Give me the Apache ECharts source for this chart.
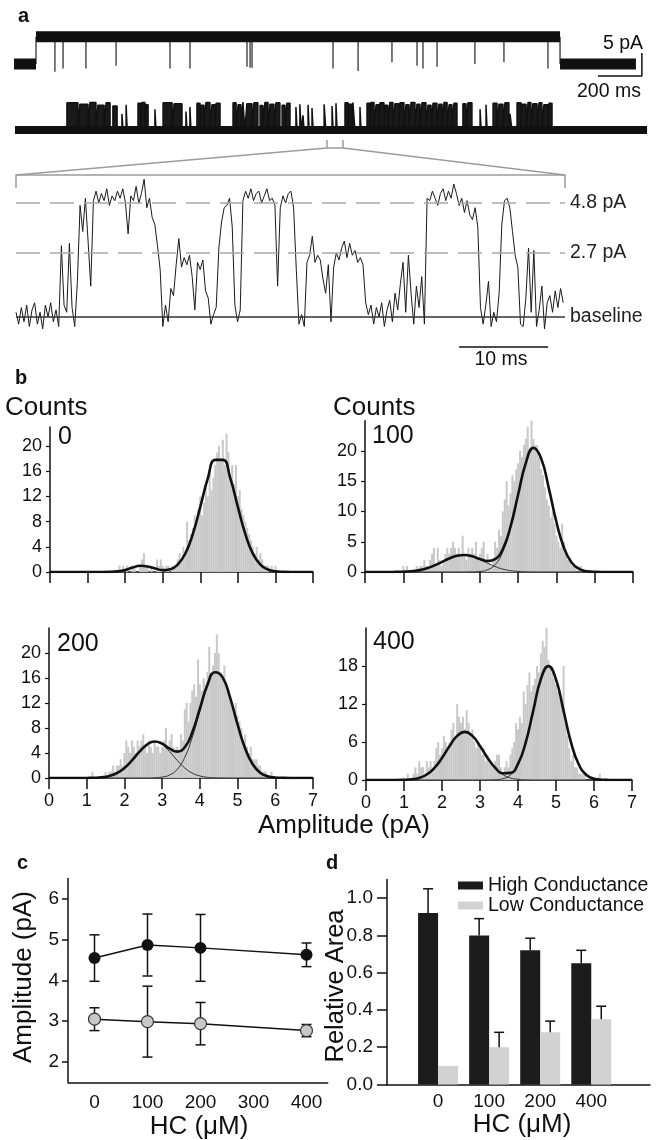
<!DOCTYPE html>
<html>
<head>
<meta charset="utf-8">
<script src="https://cdn.jsdelivr.net/npm/echarts@6/dist/echarts.min.js"></script>
<style>
html, body { margin: 0; padding: 0; background: #fff; }
#chart { width: 661px; height: 1140px; }
</style>
</head>
<body>
<div id="chart"></div>
<script>
var FONT = 'Liberation Sans, Arial, sans-serif';

// ---- panel a: single channel traces ----
// top trace: one long opening with brief closures (ms / pA)
var trace1SwitchMs = [100, 2482];
var trace1EndMs = 2827;
var trace1OpenPA = 5.9;
var trace1SpikeMs = [186, 223, 327, 464, 709, 800, 1059, 1073, 1082, 1450, 1564, 1718, 1832, 1859, 1923, 2095, 2227, 2427];
var trace1SpikeMinPA = [-1.7, -1.0, -1.0, -0.4, -1.0, -1.0, -0.6, -0.8, -0.8, -1.0, -1.5, 0.4, -0.4, -1.0, -0.6, 0.0, 0.4, -1.0];

// second trace: bursts of openings [start ms, end ms, level pA]
var trace2Openings = [
  [236, 286, 5.9], [295, 332, 5.6], [341, 368, 6.0], [377, 405, 5.4], [414, 432, 5.9], [445, 464, 5.2],
  [486, 491, 3.5], [505, 510, 5.5],
  [559, 573, 5.8], [577, 591, 6.0], [595, 605, 5.5],
  [636, 641, 4.5],
  [673, 714, 5.9], [723, 759, 5.7],
  [777, 782, 4.0], [795, 800, 5.0],
  [827, 841, 5.8], [845, 859, 5.4], [868, 886, 6.0], [895, 909, 5.5], [914, 932, 5.8],
  [991, 1005, 5.9], [1014, 1027, 5.5], [1036, 1045, 6.1], [1054, 1077, 5.7], [1086, 1104, 5.9], [1114, 1127, 5.3],
  [1136, 1150, 6.0], [1159, 1177, 5.6], [1186, 1204, 5.9], [1214, 1227, 5.4], [1236, 1250, 5.8],
  [1277, 1282, 5.0], [1295, 1300, 5.6], [1309, 1314, 3.2], [1332, 1337, 5.5], [1350, 1355, 4.8], [1405, 1413, 5.6],
  [1441, 1446, 5.2], [1459, 1464, 5.8],
  [1500, 1514, 5.9], [1518, 1532, 5.6], [1536, 1545, 6.0],
  [1568, 1573, 5.0],
  [1600, 1614, 5.8], [1618, 1632, 6.0], [1641, 1655, 5.5], [1659, 1677, 5.9], [1682, 1695, 5.4], [1704, 1718, 6.0],
  [1727, 1745, 5.7], [1750, 1768, 5.9], [1777, 1791, 5.5], [1800, 1818, 6.0], [1827, 1841, 5.6], [1850, 1868, 5.9],
  [1877, 1891, 5.4], [1900, 1918, 5.8], [1927, 1941, 5.6], [1950, 1964, 6.0], [1973, 1986, 5.5], [1995, 2009, 5.8],
  [2036, 2050, 5.7], [2059, 2077, 5.9],
  [2114, 2119, 4.5], [2141, 2146, 5.5],
  [2173, 2191, 5.8], [2200, 2218, 5.6], [2227, 2245, 5.9], [2250, 2259, 3.5],
  [2282, 2300, 5.9], [2304, 2323, 5.6], [2332, 2345, 6.0], [2354, 2373, 5.7], [2382, 2395, 5.9], [2404, 2423, 5.5], [2427, 2441, 5.8]
];
var trace2EndMs = 2873;

// expanded trace, sampled every 0.3 ms (pA)
var zoomStepMs = 0.3;
var zoomTracePA = [
  0.2, -0.3, 0.4, -0.2, 0.5, -0.4, 0.3, 0.6, -0.3, 0.2,
  -0.5, 0.5, 0.0, 0.6, -0.2, 0.3, -0.4, 3.0, 0.5, 0.2,
  3.1, 0.4, -0.4, 1.5, 4.7, 3.6, 5.0, 3.2, 1.3, 4.9,
  5.3, 4.8, 5.2, 4.9, 5.4, 4.7, 5.1, 4.9, 5.3, 5.0,
  5.4, 4.8, 3.5, 5.1, 4.9, 5.5, 4.8, 5.2, 5.8, 4.6,
  5.0, 4.2, 3.9, 3.0, 2.0, -0.4, 0.5, -0.2, 1.2, 0.9,
  2.2, 3.3, 2.1, 2.5, 2.2, 2.6, 1.7, 0.3, 2.3, 2.0,
  2.4, 1.1, 0.8, -0.3, 0.1, 0.4, 2.9, 4.0, 4.6, 4.7,
  5.0, 3.8, 0.5, -0.2, 0.3, 4.9, 5.3, 5.0, 5.4, 4.9,
  5.2, 5.3, 4.8, 5.1, 5.4, 4.9, 5.0, 4.7, 1.3, 4.6,
  5.1, 4.8, 5.2, 5.3, 4.6, 2.0, -0.3, 0.1, -0.4, 2.3,
  2.6, 3.4, 2.3, 2.6, 2.4, 1.6, 1.0, 2.2, -0.2, 2.1,
  2.7, 2.4, 2.9, 3.2, 2.5, 3.1, 2.6, 2.8, 2.3, 2.5,
  2.2, 0.6, 0.1, 0.5, -0.3, 0.4, 0.0, 0.6, -0.4, 0.3,
  0.7, -0.2, 1.0, 0.3, 1.4, 2.3, 0.2, 2.6, 1.0, -0.3,
  1.3, 0.4, 1.7, -0.3, 5.0, 4.9, 5.3, 5.0, 4.7, 5.2,
  5.4, 4.9, 5.3, 5.0, 5.6, 5.2, 4.7, 5.0, 4.4, 4.9,
  4.3, 4.1, 4.6, 3.8, 0.4, -0.3, 0.5, 1.5, -0.4, 0.2,
  -0.2, 1.0, 3.9, 4.9, 5.0, 4.6, 3.6, 2.6, 2.1, -0.3,
  -0.4, 0.8, 2.9, 0.2, 2.8, -0.4, 0.3, 1.3, -0.5, 0.6,
  0.9, 0.2, 1.1, 0.4, 1.2, 0.6
];
var zoomLevels = [4.8, 2.7];

// scale bars
var scale1 = { t: 2654, y: -2.6, ms: 200, pA: 5 };
var scale2 = { t: 49.8, y: -1.26, ms: 10 };

// ---- panel b: amplitude histograms, bins of 0.05 pA from 1.00 pA ----
var histStart = 1.0, histStep = 0.05;
var hist0 = [
  0, 0, 0, 0, 0, 0, 0, 0, 0, 0,
  0, 0, 0, 0, 0, 0, 0, 1, 0, 1,
  0, 1, 0, 0, 1, 1, 0, 0, 1, 2,
  3, 1, 1, 0, 1, 0, 0, 2, 1, 2,
  1, 0, 1, 1, 0, 1, 1, 1, 2, 3,
  2, 4, 3, 8, 5, 6, 7, 9, 8, 10,
  12, 9, 11, 14, 12, 16, 13, 15, 17, 19,
  20, 18, 21, 17, 22, 19, 15, 17, 14, 17,
  12, 13, 10, 9, 8, 7, 6, 5, 4, 3,
  4, 2, 3, 2, 1, 1, 1, 0, 1, 0,
  1, 0, 0, 0, 0, 0, 0, 0, 0, 0
];
var hist100 = [
  1, 0, 1, 0, 0, 0, 0, 1, 0, 1,
  1, 2, 1, 1, 2, 3, 4, 1, 4, 2,
  1, 2, 3, 4, 3, 4, 5, 4, 3, 4,
  3, 6, 3, 2, 4, 3, 4, 3, 5, 2,
  3, 4, 5, 2, 3, 2, 1, 2, 5, 4,
  7, 6, 10, 12, 15, 11, 13, 16, 15, 17,
  18, 20, 19, 21, 22, 24, 20, 25, 22, 21,
  21, 19, 17, 16, 14, 12, 11, 9, 10, 8,
  6, 5, 4, 8, 5, 3, 2, 2, 1, 1,
  1, 0, 1, 1, 0, 0, 0, 0, 0, 0,
  0, 0, 0, 0, 0, 0, 0, 0, 0, 0
];
var hist200 = [
  0, 0, 0, 1, 0, 0, 0, 0, 0, 0,
  1, 0, 1, 1, 2, 1, 2, 2, 3, 2,
  4, 6, 5, 4, 6, 5, 4, 6, 5, 6,
  7, 5, 4, 6, 5, 4, 6, 5, 5, 4,
  5, 6, 8, 5, 6, 7, 5, 4, 5, 4,
  7, 6, 11, 12, 9, 12, 14, 15, 13, 19,
  15, 14, 16, 15, 17, 21, 16, 18, 20, 23,
  20, 17, 16, 18, 15, 14, 13, 12, 11, 12,
  10, 9, 8, 6, 7, 5, 4, 5, 3, 3,
  3, 2, 2, 1, 1, 1, 0, 0, 1, 0,
  0, 0, 0, 0, 0, 0, 0, 0, 0, 0
];
var hist400 = [
  0, 0, 1, 0, 0, 1, 2, 1, 3, 2,
  2, 1, 3, 2, 3, 2, 3, 5, 6, 4,
  5, 7, 6, 5, 6, 8, 9, 7, 12, 10,
  9, 10, 8, 11, 9, 7, 8, 6, 5, 6,
  5, 4, 5, 3, 4, 3, 3, 2, 3, 4,
  4, 2, 1, 2, 3, 2, 4, 5, 6, 9,
  8, 10, 9, 14, 12, 15, 17, 14, 15, 16,
  18, 17, 20, 22, 21, 24, 19, 18, 17, 16,
  15, 14, 13, 12, 18, 9, 7, 5, 3, 4,
  2, 2, 1, 1, 1, 1, 0, 0, 0, 0,
  0, 0, 0, 1, 0, 0, 0, 0, 0, 0
];

// Gaussian fits, every 0.2 pA from 0 to 7 pA
var fitStart = 0, fitStep = 0.2;
var fit0Sum = [0, 0, 0, 0, 0, 0, 0, 0, 0.02, 0.1, 0.32, 0.71, 0.99, 0.88, 0.54, 0.30, 0.44, 1.19, 2.91, 6.0,
  10.33, 14.85, 17.8, 17.8, 14.85, 10.33, 6.0, 2.91, 1.18, 0.40, 0.11, 0.03, 0, 0, 0, 0];
var fit100Low = [0, 0, 0, 0, 0.02, 0.05, 0.13, 0.29, 0.59, 1.05, 1.64, 2.23, 2.67, 2.8, 2.57, 2.06, 1.45, 0.90, 0.48, 0.23,
  0.10, 0.03, 0.01, 0, 0, 0, 0, 0, 0, 0, 0, 0, 0, 0, 0, 0];
var fit100High = [0, 0, 0, 0, 0, 0, 0, 0, 0, 0, 0, 0, 0, 0, 0.02, 0.09, 0.37, 1.23, 3.33, 7.25,
  12.72, 17.98, 20.5, 18.78, 13.87, 8.26, 3.96, 1.53, 0.48, 0.12, 0.02, 0, 0, 0, 0, 0];
var fit100Sum = [0, 0, 0, 0, 0.02, 0.05, 0.13, 0.29, 0.59, 1.05, 1.64, 2.23, 2.67, 2.8, 2.59, 2.15, 1.82, 2.13, 3.81, 7.48,
  12.82, 18.01, 20.51, 18.78, 13.87, 8.26, 3.96, 1.53, 0.48, 0.12, 0.02, 0, 0, 0, 0, 0];
var fit200Low = [0, 0, 0, 0, 0, 0.01, 0.03, 0.11, 0.33, 0.78, 1.61, 2.82, 4.21, 5.35, 5.8, 5.35, 4.21, 2.82, 1.61, 0.78,
  0.33, 0.11, 0.03, 0.01, 0, 0, 0, 0, 0, 0, 0, 0, 0, 0, 0, 0];
var fit200High = [0, 0, 0, 0, 0, 0, 0, 0, 0, 0, 0, 0, 0, 0, 0.04, 0.15, 0.49, 1.40, 3.31, 6.53,
  10.75, 14.76, 16.9, 16.15, 12.89, 8.57, 4.76, 2.2, 0.85, 0.27, 0.07, 0.02, 0, 0, 0, 0];
var fit200Sum = [0, 0, 0, 0, 0, 0.01, 0.03, 0.11, 0.33, 0.78, 1.61, 2.82, 4.21, 5.35, 5.84, 5.5, 4.7, 4.22, 4.92, 7.31,
  11.08, 14.87, 16.93, 16.15, 12.89, 8.57, 4.76, 2.2, 0.85, 0.27, 0.07, 0.02, 0, 0, 0, 0];
var fit400Low = [0, 0, 0, 0, 0, 0.03, 0.11, 0.33, 0.87, 1.90, 3.48, 5.37, 6.97, 7.6, 6.97, 5.37, 3.48, 1.90, 0.87, 0.33,
  0.11, 0.03, 0, 0, 0, 0, 0, 0, 0, 0, 0, 0, 0, 0, 0, 0];
var fit400High = [0, 0, 0, 0, 0, 0, 0, 0, 0, 0, 0, 0, 0, 0, 0, 0, 0.01, 0.04, 0.20, 0.79,
  2.44, 5.84, 10.92, 15.89, 18, 15.89, 10.92, 5.84, 2.44, 0.79, 0.20, 0.04, 0.01, 0, 0, 0];
var fit400Sum = [0, 0, 0, 0, 0, 0.03, 0.11, 0.33, 0.87, 1.90, 3.48, 5.37, 6.97, 7.6, 6.97, 5.37, 3.49, 1.94, 1.07, 1.12,
  2.55, 5.87, 10.92, 15.89, 18, 15.89, 10.92, 5.84, 2.44, 0.79, 0.20, 0.04, 0.01, 0, 0, 0];
var ampTicks = [0, 1, 2, 3, 4, 5, 6, 7];

// ---- panel c: amplitudes vs HC ----
var hcConc = [0, 100, 200, 400];
var highAmp = [4.55, 4.87, 4.80, 4.63];
var highAmpErr = [0.57, 0.76, 0.82, 0.29];
var lowAmp = [3.05, 2.99, 2.94, 2.77];
var lowAmpErr = [0.28, 0.87, 0.52, 0.15];

// ---- panel d: relative areas ----
var hcLabels = ['0', '100', '200', '400'];
var highArea = [0.92, 0.80, 0.72, 0.65];
var highAreaErr = [0.13, 0.09, 0.065, 0.07];
var lowArea = [0.10, 0.20, 0.28, 0.35];
var lowAreaErr = [0, 0.08, 0.06, 0.07];

function pairs(start, step, vals) {
    return vals.map(function (v, i) { return [+(start + i * step).toFixed(3), v]; });
}

var blackLine = { color: '#111', width: 1.5 };
var hidden = { show: false };

function plainAxis(grid, min, max) {
    return { type: 'value', gridIndex: grid, min: min, max: max, show: false };
}
function histX(grid, labels) {
    return {
        type: 'value', gridIndex: grid, min: 0, max: 7,
        axisLine: { show: true, onZero: false, lineStyle: blackLine },
        axisTick: { show: true, length: 11, customValues: ampTicks, lineStyle: blackLine },
        axisLabel: { show: labels, margin: 14, fontSize: 18, color: '#111', customValues: ampTicks },
        splitLine: hidden
    };
}
function histY(grid, max, ticks) {
    return {
        type: 'value', gridIndex: grid, min: 0, max: max,
        axisLine: { show: true, onZero: false, lineStyle: blackLine },
        axisTick: { show: true, length: 4, customValues: ticks, lineStyle: { color: '#111', width: 1.2 } },
        axisLabel: { margin: 8, fontSize: 18, color: '#111', customValues: ticks },
        splitLine: hidden
    };
}

var grids = [
    { left: 14, top: 27.2, width: 638, height: 55.2 },
    { left: 15, top: 93.2, width: 638, height: 55.2 },
    { left: 16, top: 174.5, width: 549, height: 190 },
    { left: 50, top: 427.1, width: 263, height: 144.9 },
    { left: 365, top: 420.75, width: 268, height: 151.25 },
    { left: 49, top: 628, width: 264, height: 150 },
    { left: 366, top: 628.1, width: 266, height: 151.9 },
    { left: 68, top: 878.6, width: 259.7, height: 203.75 },
    { left: 387, top: 879.5, width: 263, height: 205 }
];

var xAxes = [
    plainAxis(0, 0, 2900), plainAxis(1, 0, 2900), plainAxis(2, 0, 61.7),
    histX(3, false), histX(4, false), histX(5, true), histX(6, true),
    {
        type: 'value', gridIndex: 7, min: -50, max: 440,
        axisLine: { show: true, onZero: false, lineStyle: blackLine },
        axisTick: { show: false },
        axisLabel: { margin: 11, fontSize: 19, color: '#111', customValues: [0, 100, 200, 300, 400] },
        splitLine: hidden
    },
    {
        type: 'value', gridIndex: 8, min: 0, max: 5.15,
        axisLine: { show: true, onZero: false, lineStyle: blackLine },
        axisTick: { show: false },
        axisLabel: {
            margin: 8, fontSize: 19, color: '#111', customValues: [1, 2, 3, 4],
            formatter: function (v) { return hcLabels[Math.round(v) - 1] || ''; }
        },
        splitLine: hidden
    }
];
var yAxes = [
    plainAxis(0, -4, 8), plainAxis(1, -4, 8), plainAxis(2, -2, 6),
    histY(3, 23, [0, 4, 8, 12, 16, 20]), histY(4, 25, [0, 5, 10, 15, 20]),
    histY(5, 24, [0, 4, 8, 12, 16, 20]), histY(6, 24, [0, 6, 12, 18]),
    {
        type: 'value', gridIndex: 7, min: 1.5, max: 6.5,
        axisLine: { show: true, onZero: false, lineStyle: blackLine },
        axisTick: { show: true, length: 6, customValues: [2, 3, 4, 5, 6], lineStyle: blackLine },
        axisLabel: { margin: 9, fontSize: 19, color: '#111', customValues: [2, 3, 4, 5, 6] },
        splitLine: hidden
    },
    {
        type: 'value', gridIndex: 8, min: 0, max: 1.1,
        axisLine: { show: true, onZero: false, lineStyle: blackLine },
        axisTick: { show: true, length: 10, customValues: [0, 0.2, 0.4, 0.6, 0.8, 1.0], lineStyle: blackLine },
        axisLabel: {
            margin: 14, fontSize: 19, color: '#111', customValues: [0, 0.2, 0.4, 0.6, 0.8, 1.0],
            formatter: function (v) { return v.toFixed(1); }
        },
        splitLine: hidden
    }
];

var series = [];

// top trace: thick noise bands for each level, thin closures
var t1Segments = [
    [[0, 0], [trace1SwitchMs[0], 0]],
    [[trace1SwitchMs[0], trace1OpenPA], [trace1SwitchMs[1], trace1OpenPA]],
    [[trace1SwitchMs[1], 0], [trace1EndMs, 0]]
];
t1Segments.forEach(function (seg) {
    series.push({ type: 'line', xAxisIndex: 0, yAxisIndex: 0, data: seg, symbol: 'none',
        lineStyle: { color: '#111', width: 11, cap: 'butt' }, silent: true });
});
var t1Verticals = trace1SpikeMs.map(function (t, i) { return [t, trace1SpikeMinPA[i]]; })
    .concat(trace1SwitchMs.map(function (t) { return [t, 0]; }));
series.push({
    type: 'custom', xAxisIndex: 0, yAxisIndex: 0, data: t1Verticals, encode: { x: 0, y: 1 }, silent: true,
    renderItem: function (params, api) {
        var a = api.coord([api.value(0), trace1OpenPA]);
        var b = api.coord([api.value(0), api.value(1)]);
        return { type: 'line', shape: { x1: a[0], y1: a[1], x2: b[0], y2: b[1] }, style: { stroke: '#333', lineWidth: 1.3 } };
    }
});
series.push({ type: 'line', xAxisIndex: 0, yAxisIndex: 0, symbol: 'none', silent: true,
    data: [[scale1.t, scale1.y], [scale1.t + scale1.ms, scale1.y], [scale1.t + scale1.ms, scale1.y + scale1.pA]],
    lineStyle: blackLine });

// second trace: openings filled down to the baseline
var t2Data = [[0, 0]];
trace2Openings.forEach(function (o) {
    t2Data.push([o[0], 0], [o[0], o[2]], [o[1], o[2]], [o[1], 0]);
});
t2Data.push([trace2EndMs, 0]);
series.push({ type: 'line', xAxisIndex: 1, yAxisIndex: 1, data: [[0, 0], [trace2EndMs, 0]], symbol: 'none',
    lineStyle: { color: '#111', width: 8, cap: 'butt' }, silent: true });
series.push({ type: 'line', xAxisIndex: 1, yAxisIndex: 1, data: t2Data, symbol: 'none',
    lineStyle: { color: '#111', width: 1.5 }, areaStyle: { color: '#1a1a1a', opacity: 1, origin: 0 }, silent: true });

// expanded trace
var zoomData = zoomTracePA.map(function (v, i) { return [+(i * zoomStepMs).toFixed(2), v]; });
var dashed = { color: '#a8a8a8', type: [24, 10], width: 1.6 };
series.push({
    type: 'line', xAxisIndex: 2, yAxisIndex: 2, data: zoomData, symbol: 'none', z: 3,
    lineStyle: { color: '#1a1a1a', width: 1 },
    markLine: {
        silent: true, symbol: ['none', 'none'], animation: false,
        label: { show: true, position: 'end', formatter: '{b}', color: '#222', fontSize: 19.5, fontFamily: FONT, distance: 5 },
        data: [
            { name: '4.8 pA', yAxis: zoomLevels[0], lineStyle: dashed },
            { name: '2.7 pA', yAxis: zoomLevels[1], lineStyle: dashed },
            { name: 'baseline', yAxis: 0, lineStyle: { color: '#333', type: 'solid', width: 1.6 } }
        ]
    }
});
series.push({ type: 'line', xAxisIndex: 2, yAxisIndex: 2, symbol: 'none', silent: true,
    data: [[scale2.t, scale2.y], [scale2.t + scale2.ms, scale2.y]], lineStyle: blackLine });

// histograms with fitted curves
var hists = [
    { grid: 3, counts: hist0, parts: [], sum: fit0Sum },
    { grid: 4, counts: hist100, parts: [fit100Low, fit100High], sum: fit100Sum },
    { grid: 5, counts: hist200, parts: [fit200Low, fit200High], sum: fit200Sum },
    { grid: 6, counts: hist400, parts: [fit400Low, fit400High], sum: fit400Sum }
];
hists.forEach(function (h) {
    series.push({ type: 'bar', xAxisIndex: h.grid, yAxisIndex: h.grid, data: pairs(histStart, histStep, h.counts),
        barWidth: 2, itemStyle: { color: '#c8c8c8' }, z: 1, silent: true });
    h.parts.forEach(function (f) {
        series.push({ type: 'line', xAxisIndex: h.grid, yAxisIndex: h.grid, data: pairs(fitStart, fitStep, f),
            smooth: true, symbol: 'none', lineStyle: { color: '#333', width: 1 }, z: 2, silent: true });
    });
    series.push({ type: 'line', xAxisIndex: h.grid, yAxisIndex: h.grid, data: pairs(fitStart, fitStep, h.sum),
        smooth: true, symbol: 'none', lineStyle: { color: '#111', width: 2.6 }, z: 3, silent: true });
});

// panel c
function errBoth(params, api) {
    var x = api.value(0), y = api.value(1), e = api.value(2);
    var t = api.coord([x, y + e]), b = api.coord([x, y - e]);
    var st = { stroke: '#111', lineWidth: 1.5 };
    return { type: 'group', children: [
        { type: 'line', shape: { x1: t[0], y1: t[1], x2: b[0], y2: b[1] }, style: st },
        { type: 'line', shape: { x1: t[0] - 5, y1: t[1], x2: t[0] + 5, y2: t[1] }, style: st },
        { type: 'line', shape: { x1: b[0] - 5, y1: b[1], x2: b[0] + 5, y2: b[1] }, style: st }
    ] };
}
var cErr = hcConc.map(function (x, i) { return [x, highAmp[i], highAmpErr[i]]; })
    .concat(hcConc.map(function (x, i) { return [x, lowAmp[i], lowAmpErr[i]]; }));
series.push({ type: 'custom', xAxisIndex: 7, yAxisIndex: 7, data: cErr, encode: { x: 0, y: 1 }, renderItem: errBoth, z: 1, silent: true });
series.push({ type: 'line', xAxisIndex: 7, yAxisIndex: 7, data: hcConc.map(function (x, i) { return [x, highAmp[i]]; }),
    symbol: 'circle', symbolSize: 12, lineStyle: blackLine, itemStyle: { color: '#111' }, z: 2, silent: true });
series.push({ type: 'line', xAxisIndex: 7, yAxisIndex: 7, data: hcConc.map(function (x, i) { return [x, lowAmp[i]]; }),
    symbol: 'circle', symbolSize: 12, lineStyle: blackLine,
    itemStyle: { color: '#c8c8c8', borderColor: '#333', borderWidth: 1.2 }, z: 2, silent: true });

// panel d
function errUp(offset) {
    return function (params, api) {
        var x = api.value(0), y = api.value(1), e = api.value(2);
        if (!e) { return null; }
        var base = api.coord([x, y]), top = api.coord([x, y + e]);
        var cx = base[0] + offset;
        var st = { stroke: '#111', lineWidth: 1.5 };
        return { type: 'group', children: [
            { type: 'line', shape: { x1: cx, y1: base[1], x2: cx, y2: top[1] }, style: st },
            { type: 'line', shape: { x1: cx - 5, y1: top[1], x2: cx + 5, y2: top[1] }, style: st }
        ] };
    };
}
series.push({ name: 'High Conductance', type: 'bar', xAxisIndex: 8, yAxisIndex: 8, barWidth: 20, barGap: '0%',
    data: highArea.map(function (v, i) { return [i + 1, v]; }), itemStyle: { color: '#1c1c1c' }, z: 1, silent: true });
series.push({ name: 'Low Conductance', type: 'bar', xAxisIndex: 8, yAxisIndex: 8, barWidth: 20, barGap: '0%',
    data: lowArea.map(function (v, i) { return [i + 1, v]; }), itemStyle: { color: '#d2d2d2' }, z: 1, silent: true });
series.push({ type: 'custom', xAxisIndex: 8, yAxisIndex: 8, encode: { x: 0, y: 1 }, z: 2, silent: true,
    data: highArea.map(function (v, i) { return [i + 1, v, highAreaErr[i]]; }), renderItem: errUp(-10) });
series.push({ type: 'custom', xAxisIndex: 8, yAxisIndex: 8, encode: { x: 0, y: 1 }, z: 2, silent: true,
    data: lowArea.map(function (v, i) { return [i + 1, v, lowAreaErr[i]]; }), renderItem: errUp(10) });

// free text and the zoom bracket
function txt(s, x, y, size, align, opts) {
    opts = opts || {};
    return {
        type: 'text', x: x, y: y, rotation: opts.rot || 0, silent: true,
        style: {
            text: s, fill: '#111', font: (opts.bold ? 'bold ' : '') + size + 'px ' + FONT,
            align: align, textAlign: align, verticalAlign: 'middle', textVerticalAlign: 'middle'
        }
    };
}
var gray = { stroke: '#9c9c9c', lineWidth: 1.5, fill: null };
var graphics = [
    { type: 'polyline', silent: true, shape: { points: [[16, 188], [16, 175], [565, 175], [565, 188]] }, style: gray },
    { type: 'polyline', silent: true, shape: { points: [[16, 175], [327, 148], [343, 148], [565, 175]] }, style: gray },
    { type: 'polyline', silent: true, shape: { points: [[327, 140], [327, 148]] }, style: gray },
    { type: 'polyline', silent: true, shape: { points: [[343, 140], [343, 148]] }, style: gray },
    txt('a', 18, 16, 20, 'left', { bold: true }),
    txt('5 pA', 643, 44, 19.5, 'right'),
    txt('200 ms', 609, 91.5, 19.5, 'center'),
    txt('10 ms', 501, 360, 19.5, 'center'),
    txt('b', 15, 378, 20, 'left', { bold: true }),
    txt('Counts', 5, 407.5, 26, 'left'),
    txt('Counts', 333, 408, 26, 'left'),
    txt('0', 58, 437.5, 25, 'left'),
    txt('100', 372, 436.5, 25, 'left'),
    txt('200', 57, 644, 25, 'left'),
    txt('400', 373, 642.5, 25, 'left'),
    txt('Amplitude (pA)', 344, 826, 26, 'center'),
    txt('c', 17, 863, 20, 'left', { bold: true }),
    txt('d', 326, 863, 20, 'left', { bold: true }),
    txt('Amplitude (pA)', 23.5, 977, 26, 'center', { rot: Math.PI / 2 }),
    txt('Relative Area', 336, 986, 25.5, 'center', { rot: Math.PI / 2 }),
    txt('HC (\u03bcM)', 199, 1126.5, 26, 'center'),
    txt('HC (\u03bcM)', 522, 1125, 26, 'center')
];

var chart = echarts.init(document.getElementById('chart'), null, { renderer: 'canvas' });
chart.setOption({
    animation: false,
    backgroundColor: '#fff',
    textStyle: { fontFamily: FONT },
    grid: grids,
    xAxis: xAxes,
    yAxis: yAxes,
    legend: {
        data: ['High Conductance', 'Low Conductance'], orient: 'vertical', left: 458, top: 875.5,
        itemWidth: 25, itemHeight: 8, itemGap: 0, icon: 'rect', padding: 0, selectedMode: false,
        textStyle: { fontSize: 19.5, color: '#111', lineHeight: 19, fontFamily: FONT }
    },
    graphic: graphics,
    series: series
});
</script>
</body>
</html>
